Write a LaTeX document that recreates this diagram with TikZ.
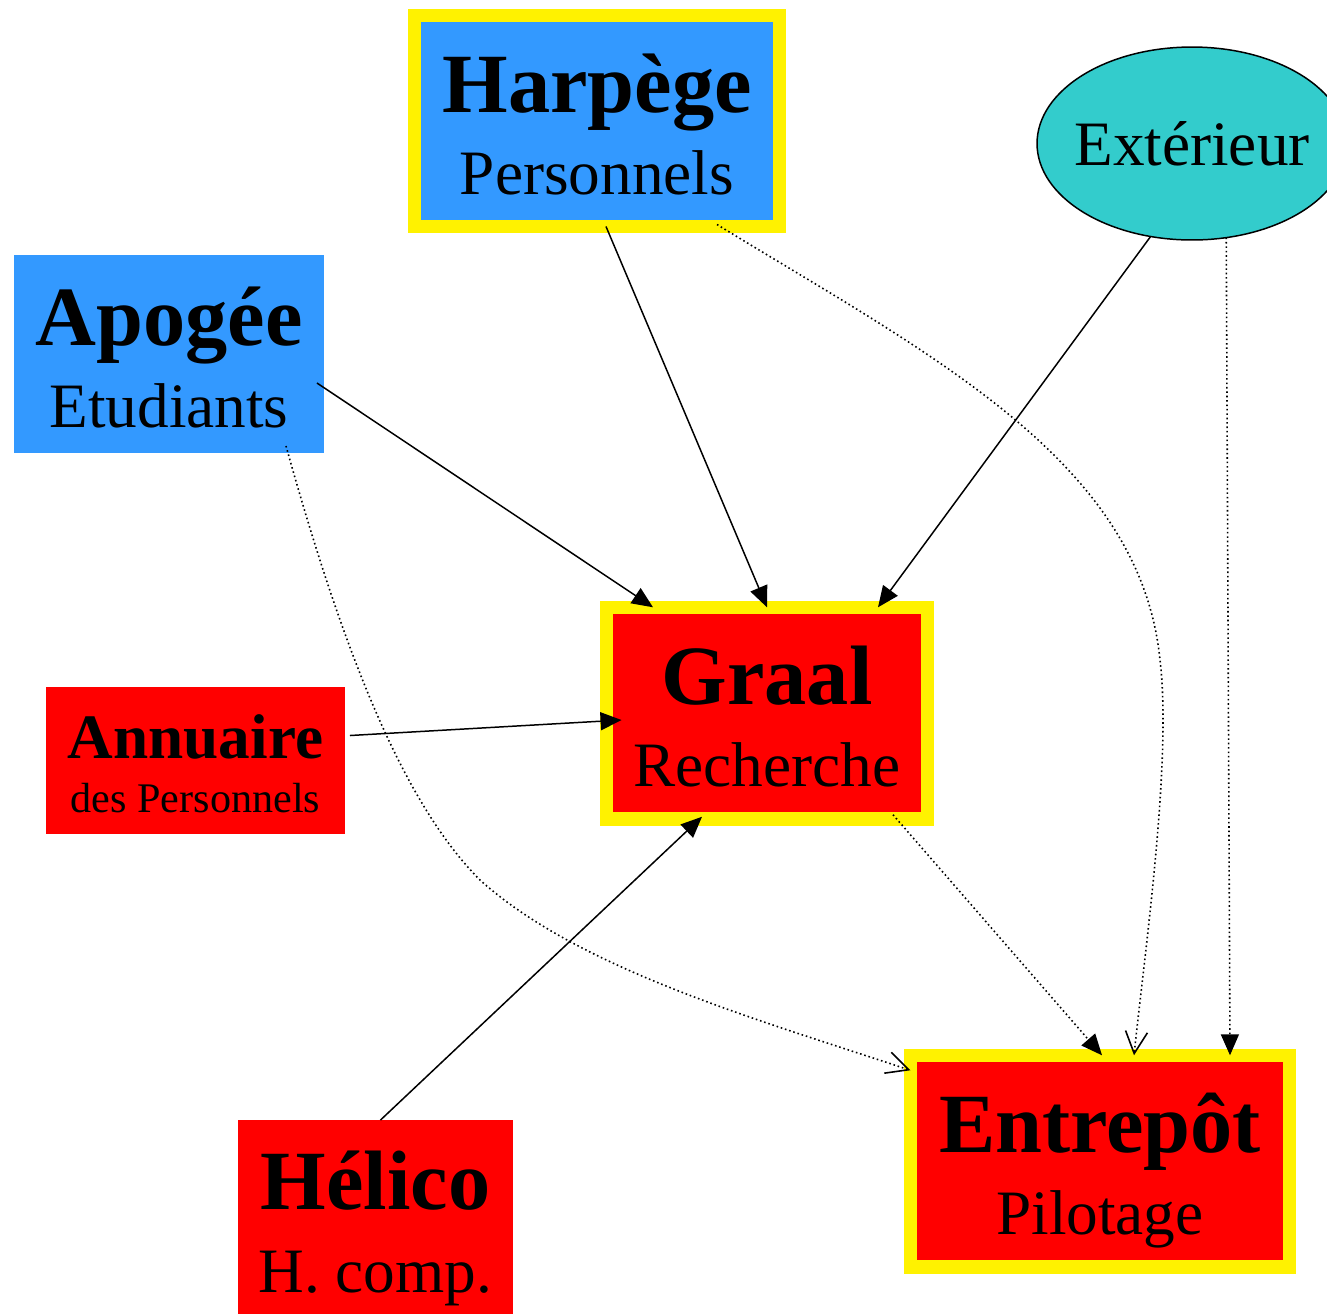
\documentclass[tikz,border=0pt]{standalone}
\usepackage{fontspec}
\setmainfont{Liberation Serif}
\usepackage{tikz}
\usetikzlibrary{shapes, arrows.meta, positioning, calc}
\definecolor{skyblue}{RGB}{51,153,255}
\definecolor{aqua}{RGB}{51,204,204}
\newcommand{\biglabel}[2]{{\fontsize{48}{47}\selectfont\bfseries\rule{0pt}{47.2pt}#1}\\#2\rule[-10pt]{0pt}{10pt}}
\newcommand{\smalllabel}[2]{{\fontsize{36}{31}\selectfont\bfseries\rule{0pt}{35.7pt}#1}\\#2\rule[-7pt]{0pt}{7pt}}

\begin{document}
\begin{tikzpicture}
  [
    x=0.02cm, y=-0.02cm,
    Box/.style={rectangle, inner sep=0pt, outer sep=0pt, align=center, font=\fontsize{36}{47}\selectfont},
    Blue/.style={Box, fill=skyblue},
    Red/.style={Box, fill=red},
    Framed/.style={draw=yellow, line width=0.27cm},
    Cyan/.style={ellipse, draw=black, fill=aqua, line width=0.85pt, inner xsep=-0.18cm, inner ysep=0pt, outer sep=0pt, minimum width=6.2cm, minimum height=3.86cm, font=\fontsize{36}{47}\selectfont},
    Solid/.style={-{Triangle[length=0.42cm, width=0.36cm]}, line width=0.85pt},
    Dots/.style={line width=0.9pt, dash pattern=on 0.9pt off 1.6pt},
    Filled/.style={Dots, -{Triangle[length=0.42cm, width=0.36cm]}},
    Open/.style={Dots, -{Straight Barb[length=0.44cm, width=0.44cm]}}
  ]
  \useasboundingbox (0, 0) rectangle (1327, 1313);
  % Nodes
  \node[Blue, Framed, minimum width=7.31cm, minimum height=4.22cm] (harpege) at (597, 121) {\biglabel{Harpège}{Personnels}};
  \node[Cyan] (exterieur) at (1192, 143.5) {Extérieur};
  \node[Blue, minimum width=6.2cm, minimum height=3.96cm] (apogee) at (169, 354) {\biglabel{Apogée}{Etudiants}};
  \node[Red, Framed, minimum width=6.42cm, minimum height=4.23cm] (graal) at (767, 713) {\biglabel{Graal}{Recherche}};
  \node[Red, minimum width=5.98cm, minimum height=2.94cm, font=\fontsize{24}{31}\selectfont] (annuaire) at (195.5, 760.5) {\smalllabel{Annuaire}{des Personnels}};
  \node[Red, minimum width=5.5cm, minimum height=3.94cm] (helico) at (375.5, 1218.5) {\biglabel{Hélico}{H. comp.}};
  \node[Red, Framed, minimum width=7.59cm, minimum height=4.23cm] (entrepot) at (1100, 1161) {\biglabel{Entrepôt}{Pilotage}};
  % Lines
  \path [Solid, draw] ($(apogee.east)+(-7,29)$) -- ($(graal.north)+(-114,0)$);
  \path [Solid, draw] ($(harpege.south)+(9,0)$) -- (graal.north);
  \path [Solid, draw] (exterieur.246) -- ($(graal.north)+(111,0)$);
  \path [Solid, draw] ($(annuaire.east)+(5,-25)$) -- ($(graal.west)+(15,7)$);
  \path [Solid, draw] ($(helico.north)+(5,0)$) -- ($(graal.south)+(-65,-2)$);
  \path [Filled, draw] ($(graal.south)+(126,-4)$) -- ($(entrepot.north)+(2,0)$);
  \path [Filled, draw] (exterieur.290) -- ($(entrepot.north)+(130,0)$);
  \path [Open, draw] ($(harpege.south)+(120,-2)$) .. controls (930, 355) and (1140, 460) .. (1160, 660)
    .. controls (1172, 760) and (1145, 950) .. ($(entrepot.north)+(34,0)$);
  \path [Open, draw] ($(apogee.south)+(117,-7)$) .. controls (340, 640) and (400, 800) .. (480, 880)
    .. controls (580, 970) and (760, 1020) .. ($(entrepot.north west)+(0,15)$);
\end{tikzpicture}
\end{document}
